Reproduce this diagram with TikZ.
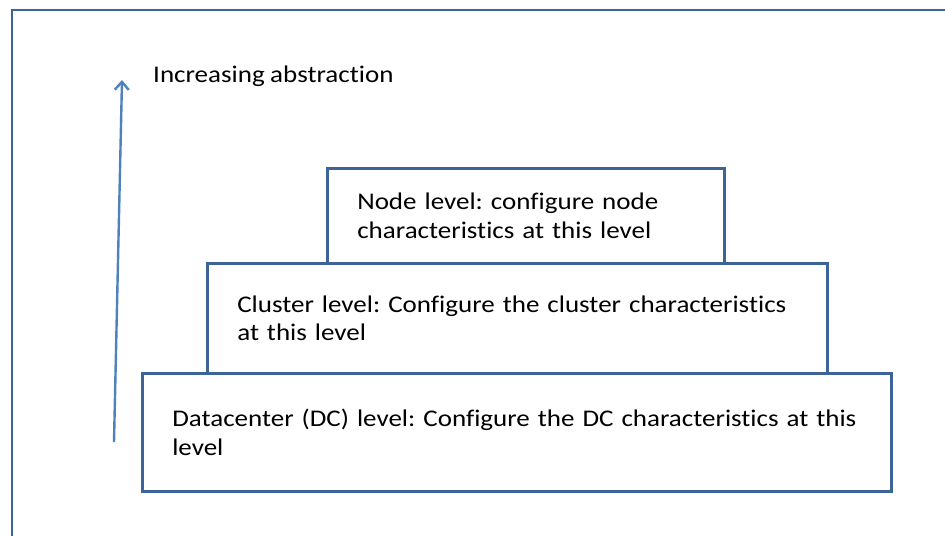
\documentclass[tikz,border=0pt]{standalone}
\usepackage{fontspec}
\setmainfont{Carlito}[FakeStretch=1.13,Ligatures=NoCommon,WordSpace=0.9]
\usepackage{tikz}
\usetikzlibrary{arrows.meta,positioning}
\definecolor{boxblue}{HTML}{3D6496}
\definecolor{arrowblue}{HTML}{4F81BD}
\frenchspacing

\begin{document}
\begin{tikzpicture}[x=1bp,y=-1bp,
  level box/.style={draw=boxblue,line width=2.6bp,fill=white,anchor=north west,
    align=left,inner xsep=30bp,inner ysep=0pt,font=\fontsize{24}{29}\selectfont},
  up arrow/.style={draw=arrowblue,line width=2.4bp,-{Straight Barb[length=8bp,width=14bp]}}]

  \useasboundingbox (0,0) rectangle (945,536);
  % outer frame, cut at the right and bottom
  \draw[boxblue,line width=2.6bp] (945,10) -- (12,10) -- (12,536);

  \node[level box,text width=337bp,minimum height=95bp] (node) at (326,167)
    {\mbox{Node level: configure node}\\\mbox{characteristics at this level}};
  \node[level box,text width=560bp,minimum height=110bp] (cluster) at (206,262)
    {\mbox{Cluster level: Configure the cluster characteristics}\\at this level};
  \node[level box,text width=689bp,minimum height=118bp] (dc) at (141,372)
    {\mbox{Datacenter (DC) level: Configure the DC characteristics at this}\\level};

  \coordinate (arrbot) at (114,442);
  \coordinate (arrtop) at (122,80);
  \draw[up arrow] (arrbot) -- (arrtop);
  \node[anchor=west,inner sep=0pt,font=\fontsize{24}{29}\selectfont] (abstr) at (153,76)
    {Increasing abstraction};
\end{tikzpicture}
\end{document}
